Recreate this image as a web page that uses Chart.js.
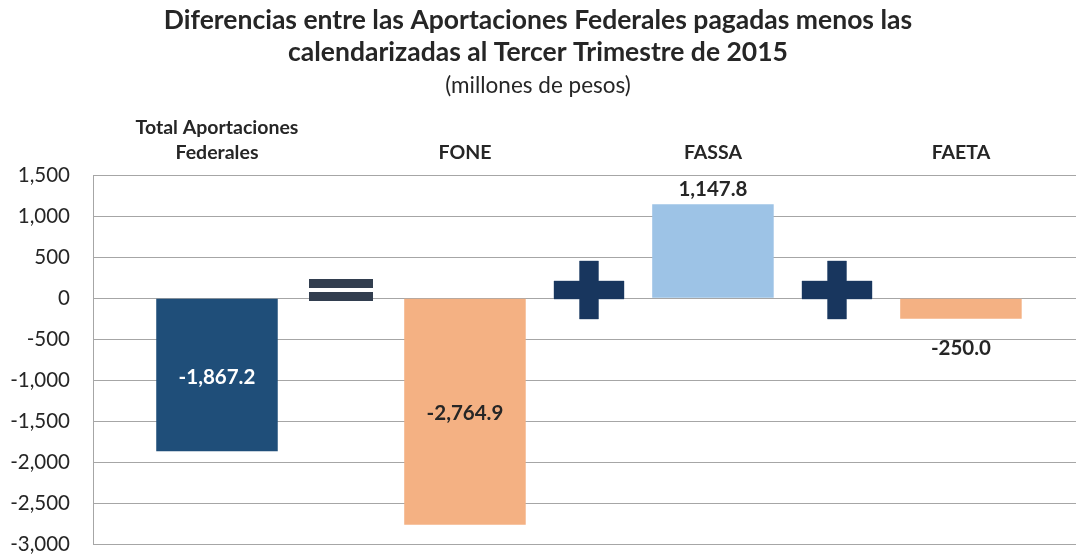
<!DOCTYPE html>
<html>
<head>
<meta charset="utf-8">
<script src="https://cdn.jsdelivr.net/npm/chart.js@4.4.0/dist/chart.umd.min.js"></script>
<style>
  html, body { margin: 0; padding: 0; background: #fff; overflow: hidden; }
</style>
</head>
<body>
<canvas id="chart" width="1076" height="554"></canvas>
<script>
// data
const categories = [['Total Aportaciones', 'Federales'], 'FONE', 'FASSA', 'FAETA']
const values = [-1867.2, -2764.9, 1147.8, -250.0]
const operators = ['=', '+', '+']
const yTicks = [-3000, -2500, -2000, -1500, -1000, -500, 0, 500, 1000, 1500]

const barColors = ['#1f4e79', '#f4b183', '#9dc3e6', '#f4b183']
const labelColors = ['#ffffff', '#262626', '#262626', '#262626']
const labelPlace = ['center', 'center', 'end', 'end']
const textColor = '#262626'
const gridColor = '#a6a6a6'

function fmt(v) {
  return v.toLocaleString('en-US', { minimumFractionDigits: 1, maximumFractionDigits: 1 })
}

// value labels on the bars and the = / + signs between them
const overlay = {
  id: 'overlay',
  afterDatasetsDraw(chart) {
    const ctx = chart.ctx
    const xs = chart.scales.x
    const ys = chart.scales.y
    const meta = chart.getDatasetMeta(0)

    ctx.save()
    ctx.font = 'bold 20.5px Lato'
    ctx.textAlign = 'center'
    ctx.textBaseline = 'middle'
    meta.data.forEach((bar, i) => {
      const v = values[i]
      let y
      if (labelPlace[i] === 'center') {
        y = (bar.y + bar.base) / 2 + 2
      } else {
        y = v >= 0 ? bar.y - 15 : bar.y + 30
      }
      ctx.fillStyle = labelColors[i]
      ctx.fillText(fmt(v), bar.x, y)
    })

    operators.forEach((op, i) => {
      const cx = Math.round(xs.getPixelForValue(i + 0.5))
      const cy = Math.round(ys.getPixelForValue(100))
      if (op === '=') {
        ctx.fillStyle = '#323e4f'
        ctx.fillRect(cx - 32, cy - 11, 64, 9)
        ctx.fillRect(cx - 32, cy + 2, 64, 9)
      } else {
        ctx.fillStyle = '#18365e'
        ctx.strokeStyle = '#6a7f9c'
        ctx.lineWidth = 0.6
        ctx.beginPath()
        ctx.rect(cx - 35, cy - 9, 70, 18)
        ctx.rect(cx - 9.5, cy - 29, 19, 58)
        ctx.stroke()
        ctx.fill()
        ctx.fillRect(cx - 35, cy - 9, 70, 18)
      }
    })
    ctx.restore()
  }
}

const ctx = document.getElementById('chart')

new Chart(ctx, {
  type: 'bar',
  data: {
    datasets: [{
      data: values.map((v, i) => ({ x: i, y: v })),
      backgroundColor: barColors,
      categoryPercentage: 1,
      barPercentage: 0.49
    }]
  },
  options: {
    responsive: false,
    animation: false,
    layout: { padding: { left: 0, right: 0, top: 0, bottom: 0 } },
    plugins: {
      legend: { display: false },
      tooltip: { enabled: false },
      title: {
        display: true,
        text: ['Diferencias entre las Aportaciones Federales pagadas menos las', 'calendarizadas al Tercer Trimestre de 2015'],
        color: textColor,
        font: { family: 'Lato', size: 26.5, weight: 'bold', lineHeight: 1.21 },
        padding: { top: 4, bottom: 0 }
      },
      subtitle: {
        display: true,
        text: '(millones de pesos)',
        color: textColor,
        font: { family: 'Lato', size: 22.5, lineHeight: 1 },
        padding: { top: 6.75, bottom: 0 }
      }
    },
    scales: {
      x: {
        type: 'linear',
        position: 'top',
        offset: false,
        bounds: 'data',
        min: -0.5,
        max: 3.464,
        grid: { display: false, drawTicks: false },
        border: { display: false },
        afterBuildTicks: s => { s.ticks = categories.map((c, i) => ({ value: i })) },
        afterFit: s => { s.height = 78 },
        ticks: {
          autoSkip: false,
          maxRotation: 0,
          padding: 10,
          color: textColor,
          font: { family: 'Lato', size: 19.5, weight: 'bold', lineHeight: 1.28 },
          callback: v => categories[v]
        }
      },
      y: {
        min: -3000,
        max: 1500,
        afterBuildTicks: s => { s.ticks = yTicks.map(v => ({ value: v })) },
        afterFit: s => { s.width = 93; s.paddingTop = 0; s.paddingBottom = 10 },
        grid: { color: gridColor, drawTicks: false },
        border: { color: gridColor },
        ticks: {
          padding: 23,
          color: textColor,
          font: { family: 'Lato', size: 20.5 },
          callback: v => v.toLocaleString('en-US')
        }
      }
    }
  },
  plugins: [overlay]
})
</script>
</body>
</html>
